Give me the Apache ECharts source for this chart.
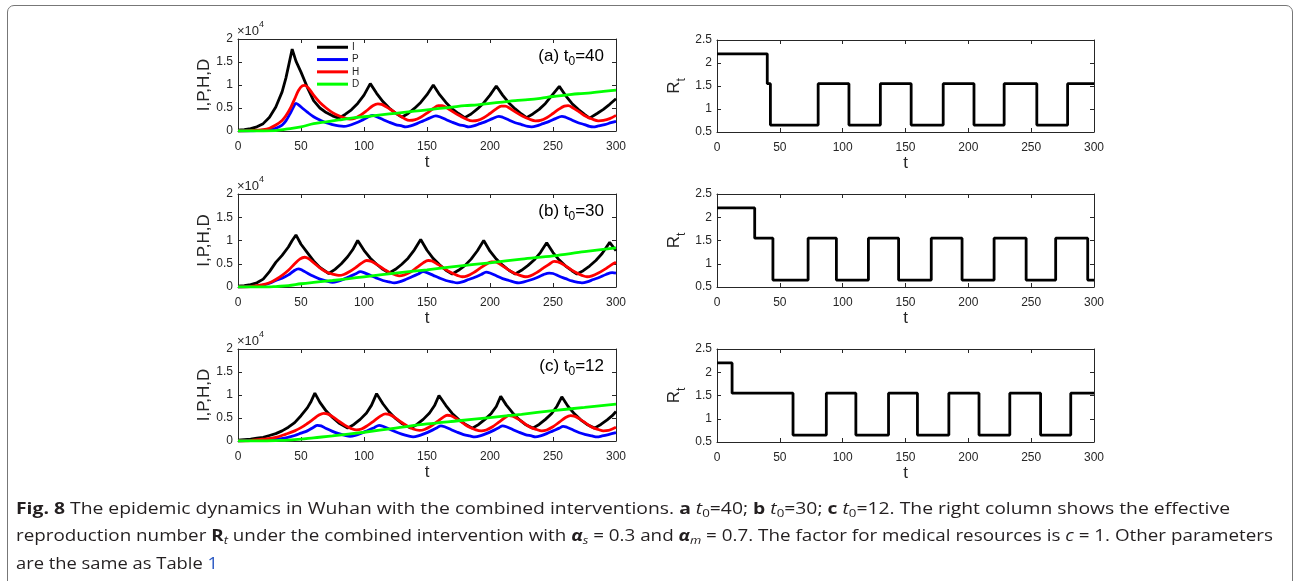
<!DOCTYPE html>
<html><head><meta charset="utf-8">
<script src="https://cdn.jsdelivr.net/npm/echarts@6/dist/echarts.min.js"></script>
<style>
html,body{margin:0;padding:0;background:#fff;width:1294px;height:581px;overflow:hidden;}
#chart{position:absolute;left:0;top:0;width:1294px;height:581px;}
#frame{position:absolute;left:7px;top:5px;width:1286px;height:620px;border:1px solid #777;border-radius:7px;box-sizing:border-box;pointer-events:none;}
.cap{position:absolute;left:16px;font-family:'Open Sans','Noto Sans',sans-serif;font-size:16px;line-height:20px;color:#231f20;white-space:nowrap;transform-origin:0 50%;}
.cap sub{font-size:11px;vertical-align:-3px;line-height:0;}
.cap b{font-weight:700;}
</style></head>
<body>
<div id="chart"></div>
<div id="frame"></div>
<div class="cap" id="l1" style="top:498px"><b>Fig. 8</b> The epidemic dynamics in Wuhan with the combined interventions. <b>a</b> <i>t</i><sub>0</sub>=40; <b>b</b> <i>t</i><sub>0</sub>=30; <b>c</b> <i>t</i><sub>0</sub>=12. The right column shows the effective</div>
<div class="cap" id="l2" style="top:525px">reproduction number <b>R</b><sub><i>t</i></sub> under the combined intervention with <b><i>α</i></b><sub><i>s</i></sub> = 0.3 and <b><i>α</i></b><sub><i>m</i></sub> = 0.7. The factor for medical resources is <i>c</i> = 1. Other parameters</div>
<div class="cap" id="l3" style="top:553px">are the same as Table <span style="color:#2b59c3">1</span></div>
<script>
// ---------- DATA (values in units of 10^4 for I,P,H,D) ----------
const seriesNames = ['I', 'P', 'H', 'D'];
const seriesColors = ['#000000', '#0000ff', '#ff0000', '#00ff00'];
const panelLabels = ['a', 'b', 'c'];
const panelT0 = ['40', '30', '12'];

// Panel (a) t0 = 40
const I_a = [[0,0.02],[5,0.03],[10,0.05],[15,0.09],[20,0.16],[25,0.3],[30,0.52],[35,0.85],[38,1.15],[40,1.4],[43,1.78],[46,1.52],[50,1.28],[55,0.95],[60,0.66],[65,0.5],[70,0.4],[75,0.33],[80,0.28],[85,0.36],[90,0.46],[95,0.6],[100,0.78],[105,1.03],[110,0.82],[115,0.64],[120,0.5],[125,0.39],[130,0.3],[135,0.38],[140,0.49],[145,0.62],[150,0.79],[155,1.0],[160,0.79],[165,0.62],[170,0.48],[175,0.38],[180,0.29],[185,0.37],[190,0.48],[195,0.61],[200,0.78],[205,0.98],[210,0.78],[215,0.61],[220,0.48],[225,0.37],[229,0.29],[234,0.37],[239,0.47],[244,0.6],[249,0.77],[255,0.97],[260,0.77],[265,0.6],[270,0.47],[275,0.36],[279,0.28],[285,0.38],[290,0.47],[295,0.58],[300,0.7]];
const P_a = [[0,0],[15,0.01],[25,0.03],[30,0.06],[35,0.13],[38,0.22],[41,0.36],[44,0.52],[46,0.6],[48,0.57],[51,0.5],[55,0.41],[60,0.31],[65,0.24],[70,0.18],[75,0.14],[80,0.11],[84,0.1],[88,0.12],[93,0.17],[98,0.23],[103,0.3],[107,0.34],[110,0.31],[115,0.25],[120,0.19],[125,0.14],[130,0.11],[133,0.09],[137,0.11],[142,0.16],[147,0.22],[152,0.28],[157,0.33],[160,0.31],[165,0.25],[170,0.19],[175,0.14],[180,0.11],[183,0.09],[187,0.11],[192,0.16],[197,0.21],[202,0.27],[207,0.32],[210,0.3],[215,0.24],[220,0.18],[225,0.14],[230,0.1],[233,0.09],[237,0.11],[242,0.16],[247,0.21],[252,0.27],[257,0.32],[260,0.3],[265,0.24],[270,0.18],[275,0.14],[279,0.1],[282,0.09],[286,0.11],[291,0.14],[296,0.18],[300,0.21]];
const H_a = [[0,0],[10,0.01],[20,0.03],[25,0.06],[30,0.13],[35,0.23],[38,0.33],[42,0.52],[45,0.7],[48,0.88],[51,0.98],[53,0.99],[56,0.93],[60,0.78],[65,0.62],[70,0.5],[75,0.4],[80,0.33],[85,0.28],[89,0.26],[93,0.28],[97,0.34],[102,0.44],[107,0.55],[111,0.59],[114,0.58],[118,0.52],[123,0.43],[128,0.34],[132,0.27],[136,0.23],[140,0.24],[145,0.3],[150,0.39],[155,0.49],[159,0.55],[162,0.55],[166,0.5],[171,0.41],[176,0.33],[181,0.26],[186,0.22],[190,0.23],[195,0.29],[200,0.38],[205,0.48],[209,0.54],[212,0.54],[216,0.49],[221,0.4],[226,0.32],[231,0.26],[236,0.22],[240,0.23],[245,0.29],[250,0.38],[255,0.48],[259,0.54],[262,0.55],[266,0.5],[271,0.41],[276,0.32],[281,0.26],[286,0.22],[290,0.23],[295,0.27],[300,0.34]];
const D_a = [[0,0],[20,0],[30,0.01],[38,0.04],[50,0.09],[60,0.16],[70,0.2],[80,0.24],[90,0.28],[100,0.31],[110,0.34],[120,0.37],[130,0.4],[140,0.43],[150,0.46],[160,0.49],[170,0.52],[180,0.55],[190,0.57],[200,0.6],[210,0.63],[220,0.66],[230,0.68],[240,0.71],[250,0.75],[260,0.78],[270,0.81],[280,0.83],[290,0.86],[300,0.89]];
const R_a = [[0,2.2],[40,1.55],[42.5,0.65],[80.5,1.55],[105,0.65],[130,1.55],[154.5,0.65],[180,1.55],[204.5,0.65],[228.5,1.55],[254.5,0.65],[279,1.55],[300,1.55]];

// Panel (b) t0 = 30
const I_b = [[0,0.02],[5,0.03],[10,0.05],[15,0.09],[20,0.17],[25,0.33],[30,0.53],[35,0.68],[40,0.86],[43,1.0],[46,1.12],[50,0.92],[55,0.74],[60,0.56],[65,0.42],[72,0.29],[77,0.38],[82,0.5],[87,0.65],[91,0.8],[95,1.0],[100,0.79],[105,0.62],[110,0.49],[115,0.38],[120,0.3],[125,0.38],[130,0.49],[135,0.62],[140,0.8],[145,1.02],[150,0.79],[155,0.61],[160,0.48],[165,0.36],[170,0.28],[175,0.36],[180,0.46],[185,0.6],[190,0.78],[195,1.0],[200,0.77],[205,0.6],[210,0.47],[215,0.36],[220,0.28],[225,0.36],[230,0.46],[235,0.58],[240,0.74],[245,0.95],[250,0.74],[255,0.58],[260,0.45],[265,0.35],[269,0.28],[274,0.35],[279,0.45],[284,0.57],[289,0.72],[295,0.96],[300,0.78]];
const P_b = [[0,0],[15,0.02],[20,0.04],[25,0.08],[30,0.14],[35,0.19],[40,0.26],[44,0.34],[48,0.39],[51,0.36],[55,0.3],[60,0.23],[65,0.17],[70,0.13],[75,0.1],[79,0.12],[84,0.17],[89,0.23],[94,0.29],[97,0.33],[100,0.31],[105,0.25],[110,0.19],[115,0.14],[120,0.11],[124,0.09],[128,0.11],[133,0.16],[138,0.22],[143,0.28],[147,0.33],[150,0.31],[155,0.25],[160,0.19],[165,0.14],[170,0.11],[174,0.09],[178,0.11],[183,0.16],[188,0.21],[193,0.27],[197,0.32],[200,0.3],[205,0.24],[210,0.18],[215,0.14],[220,0.1],[223,0.09],[227,0.11],[232,0.15],[237,0.2],[242,0.26],[247,0.3],[250,0.29],[255,0.23],[260,0.18],[265,0.13],[270,0.1],[273,0.09],[277,0.11],[282,0.16],[287,0.21],[292,0.27],[297,0.31],[300,0.3]];
const H_b = [[0,0],[10,0.01],[20,0.05],[25,0.09],[30,0.16],[35,0.25],[40,0.36],[45,0.5],[49,0.6],[53,0.64],[56,0.61],[61,0.5],[66,0.39],[71,0.31],[76,0.27],[80,0.25],[84,0.27],[89,0.34],[94,0.43],[99,0.53],[102,0.57],[106,0.55],[111,0.47],[116,0.38],[121,0.3],[125,0.26],[128,0.24],[132,0.26],[137,0.32],[142,0.42],[147,0.52],[151,0.57],[154,0.56],[159,0.48],[164,0.39],[169,0.31],[174,0.25],[178,0.22],[182,0.24],[187,0.31],[192,0.4],[197,0.49],[201,0.54],[204,0.54],[209,0.47],[214,0.38],[219,0.3],[224,0.25],[228,0.22],[232,0.24],[237,0.31],[242,0.4],[247,0.49],[251,0.55],[254,0.54],[259,0.47],[264,0.38],[269,0.3],[273,0.25],[277,0.22],[281,0.24],[286,0.3],[291,0.38],[296,0.47],[300,0.53]];
const D_b = [[0,0],[25,0],[30,0.01],[40,0.03],[50,0.07],[60,0.1],[75,0.14],[88,0.18],[100,0.22],[125,0.3],[150,0.37],[175,0.45],[200,0.52],[225,0.6],[250,0.67],[275,0.76],[300,0.84]];
const R_b = [[0,2.2],[30,1.55],[44.5,0.65],[72.5,1.55],[95,0.65],[120.5,1.55],[144.5,0.65],[170.5,1.55],[195,0.65],[220.5,1.55],[246,0.65],[269.5,1.55],[295,0.65],[300,0.65]];

// Panel (c) t0 = 12
const I_c = [[0,0.02],[10,0.04],[15,0.06],[20,0.08],[25,0.12],[30,0.16],[35,0.22],[40,0.3],[45,0.4],[50,0.55],[55,0.72],[58,0.86],[61,1.04],[65,0.84],[70,0.65],[75,0.51],[80,0.39],[87,0.28],[92,0.36],[97,0.47],[102,0.61],[106,0.78],[110,1.03],[115,0.81],[120,0.63],[125,0.49],[130,0.38],[137,0.28],[142,0.36],[147,0.47],[152,0.61],[156,0.77],[159.5,0.99],[165,0.77],[170,0.6],[175,0.47],[180,0.37],[186,0.28],[191,0.36],[196,0.47],[201,0.6],[205,0.75],[208.5,0.97],[213,0.78],[218,0.61],[223,0.47],[228,0.36],[234,0.28],[239,0.36],[244,0.47],[249,0.6],[253,0.75],[257,0.96],[262,0.75],[267,0.59],[272,0.46],[277,0.36],[283,0.28],[288,0.36],[293,0.46],[297,0.55],[300,0.64]];
const P_c = [[0,0],[10,0.01],[20,0.02],[30,0.04],[38,0.07],[45,0.12],[50,0.17],[55,0.22],[60,0.3],[63,0.34],[66,0.33],[70,0.27],[75,0.21],[80,0.16],[85,0.12],[89,0.1],[93,0.12],[98,0.17],[103,0.23],[108,0.29],[112,0.34],[115,0.32],[120,0.26],[125,0.2],[130,0.15],[135,0.11],[139,0.09],[143,0.11],[148,0.16],[153,0.22],[158,0.29],[161,0.33],[164,0.31],[169,0.25],[174,0.19],[179,0.14],[184,0.11],[188,0.09],[192,0.11],[197,0.16],[202,0.22],[207,0.29],[210,0.33],[213,0.31],[218,0.25],[223,0.19],[228,0.14],[233,0.11],[236,0.09],[240,0.11],[245,0.16],[250,0.22],[255,0.28],[258,0.32],[261,0.3],[266,0.24],[271,0.18],[276,0.14],[281,0.11],[285,0.09],[289,0.11],[294,0.14],[300,0.18]];
const H_c = [[0,0],[10,0.01],[20,0.04],[30,0.08],[38,0.15],[45,0.22],[50,0.29],[55,0.38],[60,0.48],[64,0.56],[68,0.6],[71,0.59],[75,0.53],[80,0.43],[85,0.34],[90,0.27],[94,0.24],[98,0.26],[103,0.34],[108,0.44],[113,0.54],[117,0.59],[120,0.58],[124,0.52],[129,0.42],[134,0.33],[139,0.26],[144,0.23],[148,0.25],[153,0.32],[158,0.42],[163,0.52],[166,0.56],[169,0.55],[173,0.49],[178,0.4],[183,0.31],[188,0.25],[193,0.22],[197,0.24],[202,0.31],[207,0.41],[212,0.51],[215,0.55],[218,0.54],[222,0.48],[227,0.39],[232,0.3],[237,0.25],[241,0.22],[245,0.24],[250,0.31],[255,0.41],[260,0.51],[264,0.55],[267,0.54],[271,0.48],[276,0.39],[281,0.3],[286,0.25],[290,0.22],[294,0.23],[297,0.26],[300,0.3]];
const D_c = [[0,0],[20,0],[30,0.01],[40,0.02],[50,0.04],[60,0.07],[75,0.11],[100,0.19],[125,0.28],[150,0.37],[175,0.44],[200,0.51],[225,0.58],[250,0.66],[275,0.73],[300,0.8]];
const R_c = [[0,2.2],[12,1.55],[60.5,0.65],[87,1.55],[110.5,0.65],[136.5,1.55],[159.5,0.65],[184.5,1.55],[208.5,0.65],[233,1.55],[257.5,0.65],[281.5,1.55],[300,1.55]];

const panelCurves = [[I_a, P_a, H_a, D_a], [I_b, P_b, H_b, D_b], [I_c, P_c, H_c, D_c]];
const panelR = [R_a, R_b, R_c];

// ---------- LAYOUT ----------
const AX = '#262626';
const FONT = 'Liberation Sans, Arial, Helvetica, sans-serif';
const leftPos = [{top:39,height:92},{top:194,height:93},{top:349,height:92}];
const rightPos = [{top:40,height:92},{top:194,height:93},{top:349,height:93}];

const grids = [], xAxes = [], yAxes = [], series = [], graphics = [];

function axisCommon(show, margin) {
  return {
    axisLine: {show: true, onZero: false, lineStyle: {color: AX, width: 1}},
    axisTick: {show: true, inside: true, length: 4, lineStyle: {color: AX, width: 1}},
    axisLabel: {show: show, color: AX, fontSize: 12, fontFamily: FONT, margin: margin, showMinLabel: true, showMaxLabel: true},
    splitLine: {show: false}
  };
}

function addGrid(left, width, pos, yMin, yMax, yName, yRich, yGap) {
  const gi = grids.length;
  grids.push({left: left, width: width, top: pos.top, height: pos.height, containLabel: false});
  xAxes.push(Object.assign({type: 'value', gridIndex: gi, position: 'bottom', min: 0, max: 300, interval: 50,
    name: 't', nameLocation: 'middle', nameGap: 22,
    nameTextStyle: {color: AX, fontSize: 17, fontFamily: FONT}}, axisCommon(true, 10)));
  xAxes.push(Object.assign({type: 'value', gridIndex: gi, position: 'top', min: 0, max: 300, interval: 50}, axisCommon(false, 10)));
  yAxes.push(Object.assign({type: 'value', gridIndex: gi, position: 'left', min: yMin, max: yMax, interval: 0.5,
    name: yName, nameLocation: 'middle', nameGap: yGap, nameRotate: 90,
    nameTextStyle: {color: AX, fontSize: 17, fontFamily: FONT, rich: yRich}}, axisCommon(true, 5)));
  yAxes.push(Object.assign({type: 'value', gridIndex: gi, position: 'right', min: yMin, max: yMax, interval: 0.5}, axisCommon(false, 5)));
  return gi;
}

const rRich = {
  r: {fontSize: 17, fontFamily: FONT, color: AX, lineHeight: 22, verticalAlign: 'top'},
  s: {fontSize: 12, fontFamily: FONT, color: AX, lineHeight: 10, verticalAlign: 'bottom'}
};

for (let p = 0; p < 3; p++) {
  const gl = addGrid(238, 378, leftPos[p], 0, 2, 'I,P,H,D', {}, 25);
  panelCurves[p].forEach((d, k) => {
    series.push({
      name: seriesNames[k], type: 'line', xAxisIndex: 2 * gl, yAxisIndex: 2 * gl,
      data: d, symbol: 'none', showSymbol: false, smooth: k === 0 ? false : 0.35,
      lineStyle: {color: seriesColors[k], width: 2.8}, itemStyle: {color: seriesColors[k]},
      z: 2 + k, animation: false
    });
  });
  const gr = addGrid(717, 377, rightPos[p], 0.5, 2.5, '{r|R}{s|t}', rRich, 29);
  series.push({
    name: 'Rt' + panelLabels[p], type: 'line', xAxisIndex: 2 * gr, yAxisIndex: 2 * gr,
    data: panelR[p], step: 'end', symbol: 'none', showSymbol: false,
    lineStyle: {color: '#000', width: 2.8}, animation: false
  });
  // x10^4 multiplier
  graphics.push({
    type: 'text', left: 237, top: leftPos[p].top - 19,
    style: {
      text: '{a|×10}{b|4}', fill: AX,
      rich: {
        a: {fontSize: 13, fontFamily: FONT, fill: AX, lineHeight: 18, verticalAlign: 'bottom'},
        b: {fontSize: 9, fontFamily: FONT, fill: AX, lineHeight: 9, verticalAlign: 'top'}
      }
    }
  });
  // panel annotation
  graphics.push({
    type: 'text', right: 1294 - 604, top: leftPos[p].top + 9,
    style: {
      text: '{a|(' + panelLabels[p] + ') t}{b|0}{a|=' + panelT0[p] + '}', fill: '#000',
      rich: {
        a: {fontSize: 17, fontFamily: FONT, fill: '#000', lineHeight: 20, verticalAlign: 'top'},
        b: {fontSize: 12, fontFamily: FONT, fill: '#000', lineHeight: 10, verticalAlign: 'bottom'}
      }
    }
  });
}

const option = {
  animation: false,
  backgroundColor: '#fff',
  grid: grids,
  xAxis: xAxes,
  yAxis: yAxes,
  legend: {
    data: seriesNames, orient: 'vertical', left: 317, top: 42, padding: 0,
    itemWidth: 31, itemHeight: 3, itemGap: 1.8, selectedMode: false,
    textStyle: {fontSize: 10, lineHeight: 10.5, fontFamily: FONT, color: AX, padding: [0, 0, 0, -1]},
    icon: 'rect'
  },
  graphic: graphics,
  series: series
};

const chart = echarts.init(document.getElementById('chart'), null, {renderer: 'canvas'});
chart.setOption(option);

// fit caption lines to reference widths
const capTargets = {l1: 1214, l2: 1257, l3: 202};
Object.keys(capTargets).forEach(id => {
  const el = document.getElementById(id);
  const w = el.getBoundingClientRect().width;
  if (w > 0) el.style.transform = 'scaleX(' + (capTargets[id] / w) + ')';
});
</script>
</body></html>
